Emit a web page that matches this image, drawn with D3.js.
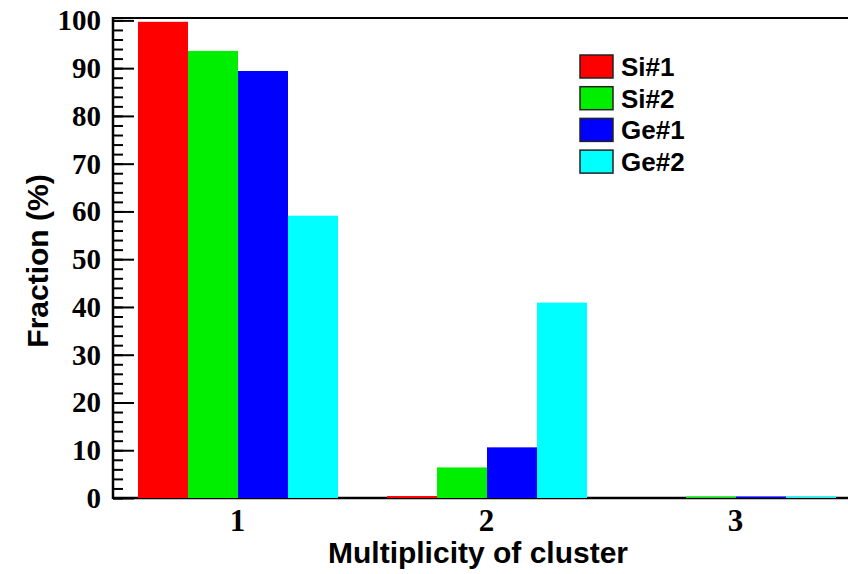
<!DOCTYPE html>
<html>
<head>
<meta charset="utf-8">
<script src="https://cdn.jsdelivr.net/npm/d3@7"></script>
<style>
  body { margin: 0; background: #fff; }
  svg { display: block; }
</style>
</head>
<body>
<div id="chart"></div>
<script>
// data
var categories = ["1", "2", "3"];
var seriesNames = ["Si#1", "Si#2", "Ge#1", "Ge#2"];
var seriesColors = ["#ff0000", "#00ee00", "#0000ff", "#00ffff"];
var si1 = [99.6, 0.3, 0.0];
var si2 = [93.5, 6.3, 0.2];
var ge1 = [89.3, 10.5, 0.2];
var ge2 = [59.0, 40.8, 0.2];
var yTicks = [0, 10, 20, 30, 40, 50, 60, 70, 80, 90, 100];

var W = 848, H = 574;
var padL = 113, padT = 18, baseY = 498;
var bandW = 249;
var rightX = padL + bandW * categories.length;

var svg = d3.select("#chart").append("svg")
    .attr("width", W)
    .attr("height", H);

var x = d3.scaleBand()
    .domain(categories)
    .range([padL, rightX])
    .paddingInner(0)
    .paddingOuter(0);

var inner = d3.scaleBand()
    .domain(seriesNames)
    .range([25, bandW - 24]);

var y = d3.scaleLinear()
    .domain([0, 100.5])
    .range([baseY, padT]);

var color = d3.scaleOrdinal().domain(seriesNames).range(seriesColors);

var rows = categories.map(function(c, i) {
    return {cat: c, vals: [si1[i], si2[i], ge1[i], ge2[i]]};
});

// frame lines (drawn first so the thin bars sit on top of the baseline)
svg.append("line")
    .attr("x1", padL).attr("x2", W + 20)
    .attr("y1", padT).attr("y2", padT)
    .attr("stroke", "#000").attr("stroke-width", 2);
svg.append("line")
    .attr("x1", padL).attr("x2", W + 20)
    .attr("y1", baseY).attr("y2", baseY)
    .attr("stroke", "#000").attr("stroke-width", 2.5);

var g = svg.append("g");
g.selectAll("g.cat")
    .data(rows)
    .enter().append("g")
    .attr("class", "cat")
    .attr("transform", function(d){ return "translate(" + x(d.cat) + ",0)"; })
    .selectAll("rect")
    .data(function(d){ return d.vals.map(function(v, j){ return {name: seriesNames[j], v: v}; }); })
    .enter().append("rect")
    .attr("x", function(d){ return inner(d.name); })
    .attr("width", inner.bandwidth())
    .attr("y", function(d){ return y(d.v) - (d.v > 0 ? 0.5 : 0); })
    .attr("height", function(d){ return baseY - y(d.v) + (d.v > 0 ? 0.5 : 0); })
    .attr("fill", function(d){ return color(d.name); });

// y axis, ticks pointing inward
var yMinor = d3.range(0, 101, 2);
var yAxisMinor = d3.axisRight(y)
    .tickValues(yMinor)
    .tickSize(10)
    .tickFormat("");
var ya = svg.append("g").attr("transform", "translate(" + padL + ",0)").call(yAxisMinor);
ya.selectAll("line").attr("stroke", "#000").attr("stroke-width", 2);
ya.select(".domain").remove();

var yAxisMajor = d3.axisRight(y)
    .tickValues(yTicks)
    .tickSize(21)
    .tickFormat("");
var yb = svg.append("g").attr("transform", "translate(" + padL + ",0)").call(yAxisMajor);
yb.selectAll("line").attr("stroke", "#000").attr("stroke-width", 2);
yb.select(".domain").remove();

svg.append("line")
    .attr("x1", padL).attr("x2", padL)
    .attr("y1", padT - 1).attr("y2", baseY + 1)
    .attr("stroke", "#000").attr("stroke-width", 2.5);

// y tick labels
svg.append("g").selectAll("text")
    .data(yTicks)
    .enter().append("text")
    .attr("x", 101)
    .attr("y", function(d){ return y(d); })
    .attr("dy", "0.34em")
    .attr("text-anchor", "end")
    .attr("font-family", "'Liberation Serif', 'Times New Roman', serif")
    .attr("font-weight", "bold")
    .attr("font-size", 29)
    .text(function(d){ return d; });

// x tick labels
var xAxis = d3.axisBottom(x).tickSize(0).tickPadding(0);
var xa = svg.append("g").attr("transform", "translate(0," + baseY + ")").call(xAxis);
xa.select(".domain").remove();
xa.attr("font-size", null).attr("font-family", null);
xa.selectAll("text")
    .attr("y", 33)
    .attr("dy", 0)
    .attr("fill", "#000")
    .style("font-family", "'Liberation Serif', 'Times New Roman', serif")
    .style("font-weight", "bold")
    .style("font-size", "31px");

// axis titles
svg.append("text")
    .attr("x", 478)
    .attr("y", 563)
    .attr("text-anchor", "middle")
    .attr("font-family", "'Liberation Sans', Arial, sans-serif")
    .attr("font-weight", "bold")
    .attr("font-size", 30)
    .text("Multiplicity of cluster");

svg.append("text")
    .attr("transform", "translate(48,261) rotate(-90)")
    .attr("text-anchor", "middle")
    .attr("font-family", "'Liberation Sans', Arial, sans-serif")
    .attr("font-weight", "bold")
    .attr("font-size", 30)
    .text("Fraction (%)");

// legend
var legend = svg.append("g").attr("transform", "translate(580,55)");
var items = legend.selectAll("g")
    .data(seriesNames)
    .enter().append("g")
    .attr("transform", function(d, i){ return "translate(0," + (i * 31.7) + ")"; });
items.append("rect")
    .attr("width", 33).attr("height", 23)
    .attr("fill", function(d){ return color(d); })
    .attr("stroke", "#222").attr("stroke-width", 1.5);
items.append("text")
    .attr("x", 41)
    .attr("y", 21)
    .attr("font-family", "'Liberation Sans', Arial, sans-serif")
    .attr("font-weight", "bold")
    .attr("font-size", 26)
    .text(function(d){ return d; });
</script>
</body>
</html>
